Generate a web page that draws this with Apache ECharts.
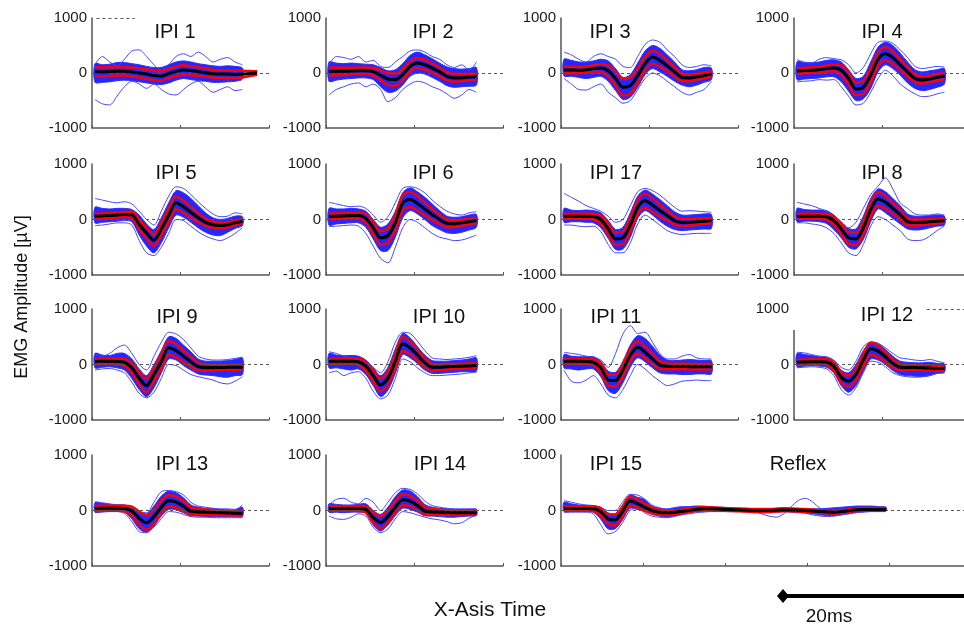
<!DOCTYPE html>
<html><head><meta charset="utf-8">
<script src="https://cdn.jsdelivr.net/npm/echarts@6/dist/echarts.min.js"></script>
<style>html,body{margin:0;padding:0;background:#fff}#c{width:964px;height:628px}</style>
</head><body><div id="c"></div>
<script>
// ===================== DATA (µV) =====================
// sample times (x units) : T0 + DT*k
const T0 = 2, DT = 5;
const panelNames = ['IPI 1','IPI 2','IPI 3','IPI 4','IPI 5','IPI 6','IPI 17','IPI 8','IPI 9','IPI 10','IPI 11','IPI 12','IPI 13','IPI 14','IPI 15'];
const yTickValues = [-1000, 0, 1000];

const mean_IPI1 = [25,20,25,30,30,20,0,-20,-45,-55,-10,30,55,45,25,5,-15,-20,-20,-25,-20,-10,0];
const sd_IPI1   = [85,80,80,75,75,80,80,85,85,85,85,85,85,80,80,75,70,70,70,65,60,45,30];
const hi_IPI1   = [170,150,160,190,190,170,150,120,100,100,150,200,220,200,170,150,130,120,130,120,90];
const lo_IPI1   = [-170,-170,-160,-140,-130,-140,-160,-180,-200,-210,-180,-130,-100,-120,-140,-150,-170,-170,-160,-150,-110];
const tr1_IPI1  = [150,300,200,130,250,400,420,300,150,50,150,300,350,300,380,300,200,250,280,200,150];
const tr2_IPI1  = [-480,-560,-580,-420,-250,-150,-200,-280,-200,-300,-380,-400,-300,-200,-150,-250,-350,-300,-250,-320,-300];

const mean_IPI2 = [25,30,30,35,40,40,25,-40,-110,-120,-30,120,180,150,90,20,-60,-90,-85,-75,-70];
const sd_IPI2   = [75,70,65,60,60,60,70,90,110,110,100,90,90,90,85,80,75,70,65,60,55];
const hi_IPI2   = [200,180,170,180,170,160,150,100,40,60,170,320,380,330,260,180,110,80,70,80,100];
const lo_IPI2   = [-150,-130,-110,-100,-90,-90,-120,-250,-350,-330,-220,-60,0,-20,-80,-150,-230,-260,-250,-240,-220];
const tr1_IPI2  = [150,300,280,250,300,200,230,120,100,200,300,400,420,380,300,250,150,100,150,50,200];
const tr2_IPI2  = [-400,-300,-250,-200,-180,-250,-200,-300,-520,-450,-300,-200,-150,-180,-250,-300,-380,-460,-400,-300,-350];

const mean_IPI3 = [55,55,50,60,80,90,40,-100,-260,-230,-50,170,290,230,130,20,-80,-90,-70,-45,-20];
const sd_IPI3   = [60,55,55,55,60,70,100,130,150,150,130,120,120,115,100,85,70,60,55,50,50];
const hi_IPI3   = [250,230,200,200,220,250,220,80,-80,-30,180,400,500,450,330,200,60,40,60,100,90];
const lo_IPI3   = [-50,-60,-80,-100,-80,-60,-150,-320,-480,-440,-260,-30,80,20,-60,-150,-220,-250,-220,-170,-120];
const tr1_IPI3  = [380,330,250,200,300,350,300,250,120,100,300,520,600,560,420,300,150,100,120,150,130];
const tr2_IPI3  = [-100,-200,-300,-310,-250,-200,-350,-450,-550,-500,-300,-100,0,-50,-150,-250,-350,-400,-350,-300,-150];

const mean_IPI4 = [35,45,50,60,80,90,50,-100,-290,-260,-40,250,350,280,150,20,-100,-125,-110,-80,-55];
const sd_IPI4   = [55,50,50,50,55,60,90,110,115,120,120,120,120,115,100,85,70,65,60,60,55];
const hi_IPI4   = [200,190,190,200,230,240,200,60,-100,-60,200,470,560,500,360,200,60,20,40,60,80];
const lo_IPI4   = [-120,-110,-100,-90,-70,-70,-160,-330,-500,-470,-280,20,150,80,-40,-180,-280,-320,-300,-260,-200];
const tr1_IPI4  = [240,200,180,250,280,260,240,150,0,100,350,560,580,540,420,280,120,80,100,120,110];
const tr2_IPI4  = [-160,-150,-140,-120,-130,-120,-250,-420,-580,-550,-350,-100,50,-50,-200,-300,-380,-430,-420,-380,-350];

const mean_IPI5 = [60,65,70,80,90,85,-90,-245,-375,-170,75,300,230,130,30,-50,-95,-110,-95,-60,-30];
const sd_IPI5   = [45,45,45,45,45,55,85,100,100,110,120,115,110,100,80,65,55,50,45,40,40];
const hi_IPI5   = [220,200,190,200,200,180,80,-80,-180,30,300,520,480,380,250,120,30,0,20,60,50];
const lo_IPI5   = [-60,-50,-40,-30,-20,-40,-280,-480,-600,-420,-150,80,40,-50,-150,-230,-280,-290,-230,-160,-110];
const tr1_IPI5  = [380,350,320,300,320,280,150,0,-100,150,420,590,560,450,320,200,100,50,60,120,100];
const tr2_IPI5  = [-110,-100,-80,-60,-60,-100,-380,-600,-650,-500,-250,0,-20,-120,-220,-300,-350,-380,-330,-250,-150];

const mean_IPI6 = [55,60,65,70,70,20,-150,-330,-290,-60,300,360,290,190,90,0,-70,-75,-60,-40,-20];
const sd_IPI6   = [50,50,50,50,55,80,110,120,130,135,135,135,130,115,100,85,70,60,55,50,45];
const hi_IPI6   = [200,190,190,200,190,150,0,-140,-80,150,480,570,500,400,280,160,60,40,50,80,90];
const lo_IPI6   = [-100,-80,-70,-60,-60,-140,-350,-560,-560,-320,30,160,100,0,-110,-180,-240,-250,-230,-190,-140];
const tr1_IPI6  = [310,280,250,230,240,200,80,-50,50,300,560,590,560,480,350,240,150,100,80,120,140];
const tr2_IPI6  = [-130,-120,-110,-100,-120,-250,-480,-700,-780,-500,-150,0,-50,-150,-250,-320,-350,-380,-370,-330,-280];

const mean_IPI17 = [55,58,60,60,55,0,-170,-350,-330,-100,220,340,260,160,70,-20,-55,-50,-40,-30,-20];
const sd_IPI17   = [45,45,45,45,50,75,100,110,115,120,125,125,120,105,90,75,65,60,55,50,45];
const hi_IPI17   = [200,170,160,170,160,120,-20,-180,-140,120,420,530,460,360,250,140,80,80,90,100,90];
const lo_IPI17   = [-50,-40,-40,-50,-60,-150,-340,-540,-530,-320,20,160,80,-30,-120,-180,-200,-190,-180,-170,-160];
const tr1_IPI17  = [470,400,330,250,200,150,60,-50,0,250,500,560,520,440,330,220,150,160,150,140,130];
const tr2_IPI17  = [-100,-100,-120,-130,-120,-220,-450,-600,-600,-420,-80,80,0,-100,-200,-250,-270,-260,-250,-250,-250];

const mean_IPI8 = [55,58,60,60,50,-20,-170,-330,-350,-150,180,370,310,200,90,-40,-55,-50,-40,-30,-20];
const sd_IPI8   = [45,45,45,45,50,70,95,105,110,115,120,120,115,100,85,65,55,50,45,40,40];
const hi_IPI8   = [200,180,170,170,160,80,-40,-160,-170,60,380,550,500,380,250,100,60,60,70,80,60];
const lo_IPI8   = [-40,-30,-30,-40,-70,-180,-330,-500,-530,-360,-40,190,120,20,-80,-170,-190,-180,-150,-120,-100];
const tr1_IPI8  = [310,280,250,200,150,50,-100,-150,-50,200,450,600,750,550,300,200,100,80,80,100,80];
const tr2_IPI8  = [-60,-60,-80,-100,-150,-250,-420,-600,-650,-450,-120,50,0,-100,-200,-350,-380,-370,-300,-200,-120];

const mean_IPI9 = [55,58,60,55,40,-60,-250,-380,-180,50,300,250,150,50,-40,-55,-55,-55,-50,-50,-50];
const sd_IPI9   = [45,45,45,50,60,85,110,120,125,125,125,120,105,90,70,60,55,50,45,45,45];
const hi_IPI9   = [200,170,160,200,200,100,-80,-200,0,250,500,470,350,230,100,60,60,60,70,90,120];
const lo_IPI9   = [-60,-50,-40,-60,-100,-250,-450,-580,-420,-150,100,80,-20,-100,-170,-190,-200,-220,-230,-200,-180];
const tr1_IPI9  = [180,150,200,300,350,200,0,-100,150,400,580,550,450,300,150,100,80,80,90,110,130];
const tr2_IPI9  = [-100,-80,-70,-100,-150,-320,-520,-600,-500,-250,0,-20,-100,-180,-220,-250,-280,-330,-350,-300,-220];

const mean_IPI10 = [55,58,60,60,50,-30,-200,-370,-250,60,370,300,170,30,-50,-50,-40,-35,-30,-25,-20];
const sd_IPI10   = [45,45,45,45,55,80,105,115,120,125,125,115,100,80,65,55,50,45,45,45,45];
const hi_IPI10   = [200,170,160,160,150,80,-60,-200,-50,280,560,480,320,170,70,60,60,70,80,100,120];
const lo_IPI10   = [-60,-60,-80,-100,-80,-180,-380,-580,-460,-160,180,120,20,-100,-160,-160,-150,-140,-130,-130,-120];
const tr1_IPI10  = [230,200,150,120,100,50,-50,-150,50,400,580,560,420,250,120,100,90,100,110,130,160];
const tr2_IPI10  = [-150,-120,-200,-150,-130,-250,-480,-620,-550,-250,100,50,-60,-150,-200,-200,-190,-180,-170,-150,-140];

const mean_IPI11 = [55,58,60,55,40,-60,-280,-290,-100,170,310,220,100,-10,-30,-35,-35,-40,-40,-40,-40];
const sd_IPI11   = [40,40,40,45,55,80,100,105,110,110,110,105,90,70,55,50,50,50,50,50,50];
const hi_IPI11   = [180,150,140,140,140,60,-120,-140,60,350,520,470,330,170,80,70,80,90,80,70,70];
const lo_IPI11   = [-60,-80,-100,-80,-80,-220,-470,-520,-330,-50,120,50,-60,-150,-170,-170,-180,-180,-170,-170,-170];
const tr1_IPI11  = [220,200,180,150,130,80,-50,200,550,700,560,580,400,200,100,100,150,180,120,100,100];
const tr2_IPI11  = [-100,-300,-330,-280,-200,-350,-550,-600,-450,-200,0,-80,-200,-300,-380,-350,-300,-290,-280,-290,-290];

const mean_IPI12 = [40,45,50,50,45,-30,-230,-300,-180,80,285,240,140,20,-50,-55,-55,-60,-65,-70,-70];
const sd_IPI12   = [45,45,45,45,50,75,95,100,105,110,110,105,90,75,60,50,45,45,45,40,40];
const hi_IPI12   = [200,180,160,140,130,60,-100,-150,0,250,400,380,270,150,60,40,30,30,40,20,10];
const lo_IPI12   = [-40,-30,-20,-30,-50,-150,-380,-500,-380,-120,100,80,0,-110,-180,-200,-210,-220,-200,-160,-140];
const tr1_IPI12  = [220,210,180,150,140,80,-50,-100,60,320,400,380,300,200,120,100,80,70,90,60,30];
const tr2_IPI12  = [-60,-50,-40,-50,-80,-200,-450,-550,-420,-150,60,40,-40,-150,-200,-220,-230,-220,-200,-160,-150];

const mean_IPI13 = [35,40,40,40,35,-10,-140,-220,-110,60,175,150,80,-15,-25,-30,-35,-40,-45,-50,-50];
const sd_IPI13   = [45,45,45,45,50,80,120,130,125,115,105,100,90,70,55,50,45,40,40,40,40];
const hi_IPI13   = [140,130,110,100,100,60,-20,-60,80,260,350,320,230,100,60,40,30,20,10,10,60];
const lo_IPI13   = [-30,-20,-10,-10,-30,-150,-330,-390,-280,-100,20,10,-40,-90,-100,-110,-110,-110,-110,-110,-110];
const tr1_IPI13  = [160,140,120,100,90,50,-20,-40,150,340,360,340,280,150,80,60,40,30,30,20,100];
const tr2_IPI13  = [-40,-30,-20,-20,-50,-200,-380,-400,-300,-150,-20,-30,-70,-110,-120,-120,-130,-130,-130,-130,-130];

const mean_IPI14 = [35,35,35,35,35,20,-130,-215,-110,60,195,170,90,-10,-25,-30,-35,-40,-40,-40,-40];
const sd_IPI14   = [40,40,40,40,45,55,90,110,110,105,100,95,85,70,55,45,40,40,40,35,35];
const hi_IPI14   = [120,110,100,100,110,120,0,-70,60,250,370,350,250,110,60,40,30,20,20,20,20];
const lo_IPI14   = [-30,-30,-40,-30,-30,-50,-260,-370,-260,-90,40,20,-30,-90,-100,-110,-120,-120,-110,-100,-90];
const tr1_IPI14  = [100,200,220,150,120,220,150,0,150,320,400,380,300,170,90,60,40,30,30,30,30];
const tr2_IPI14  = [-100,-150,-160,-120,-60,-100,-300,-400,-330,-150,-20,-40,-80,-120,-150,-170,-200,-240,-220,-140,-80];

// IPI 15 followed by the Reflex recording (one long panel)
const mean_IPI15 = [35,35,35,35,30,-20,-150,-170,-20,170,130,60,0,-30,-40,-35,-20,0,20,30,30,25,20,15,10,5,0,0,0,5,10,10,5,0,-10,-20,-25,-30,-20,0,15,20,20,20,20];
const sd_IPI15   = [35,35,35,35,40,60,90,100,95,80,75,65,55,45,40,35,35,30,30,30,25,25,25,25,25,25,25,25,25,25,25,25,25,25,25,25,25,25,25,25,25,25,25,25,25];
const hi_IPI15   = [150,120,100,90,80,60,-40,-60,80,280,240,200,80,40,20,40,60,70,80,80,70,60,50,40,30,30,30,30,30,40,50,40,30,30,30,30,40,50,60,70,80,80,80,70,60];
const lo_IPI15   = [-20,-20,-20,-20,-30,-150,-330,-330,-170,40,20,10,-60,-100,-120,-100,-70,-40,-20,-10,-10,-10,-10,-10,-10,-20,-30,-30,-30,-20,-10,-20,-30,-40,-60,-80,-90,-90,-70,-50,-30,-20,-10,-10,-10];
const tr1_IPI15  = [180,150,120,100,90,60,0,0,150,290,280,210,100,50,30,50,70,60,50,40,40,30,20,10,0,0,-20,-60,-100,-120,-60,60,180,220,150,40,0,10,20,30,40,40,30,30,30];
const tr2_IPI15  = [-30,-30,-30,-30,-60,-250,-420,-380,-220,0,40,-40,-100,-120,-130,-110,-80,-60,-40,-30,-20,-20,-20,-20,-20,-30,-40,-40,-40,-30,-20,-30,-40,-50,-80,-100,-110,-100,-80,-60,-40,-30,-20,-20,-20];

// odd dashed segments at the +1000 level (x units) and the shortened y axis of IPI 12
const dash1000_IPI1  = [3, 29];
const dash1000_IPI12 = [90, 120];
const axisTop_IPI12  = 620;

// ===================== LAYOUT / STYLE =====================
const panelData = [
  [mean_IPI1,sd_IPI1,hi_IPI1,lo_IPI1,tr1_IPI1,tr2_IPI1],
  [mean_IPI2,sd_IPI2,hi_IPI2,lo_IPI2,tr1_IPI2,tr2_IPI2],
  [mean_IPI3,sd_IPI3,hi_IPI3,lo_IPI3,tr1_IPI3,tr2_IPI3],
  [mean_IPI4,sd_IPI4,hi_IPI4,lo_IPI4,tr1_IPI4,tr2_IPI4],
  [mean_IPI5,sd_IPI5,hi_IPI5,lo_IPI5,tr1_IPI5,tr2_IPI5],
  [mean_IPI6,sd_IPI6,hi_IPI6,lo_IPI6,tr1_IPI6,tr2_IPI6],
  [mean_IPI17,sd_IPI17,hi_IPI17,lo_IPI17,tr1_IPI17,tr2_IPI17],
  [mean_IPI8,sd_IPI8,hi_IPI8,lo_IPI8,tr1_IPI8,tr2_IPI8],
  [mean_IPI9,sd_IPI9,hi_IPI9,lo_IPI9,tr1_IPI9,tr2_IPI9],
  [mean_IPI10,sd_IPI10,hi_IPI10,lo_IPI10,tr1_IPI10,tr2_IPI10],
  [mean_IPI11,sd_IPI11,hi_IPI11,lo_IPI11,tr1_IPI11,tr2_IPI11],
  [mean_IPI12,sd_IPI12,hi_IPI12,lo_IPI12,tr1_IPI12,tr2_IPI12],
  [mean_IPI13,sd_IPI13,hi_IPI13,lo_IPI13,tr1_IPI13,tr2_IPI13],
  [mean_IPI14,sd_IPI14,hi_IPI14,lo_IPI14,tr1_IPI14,tr2_IPI14],
  [mean_IPI15,sd_IPI15,hi_IPI15,lo_IPI15,tr1_IPI15,tr2_IPI15]
];
const colLeft = [92, 326, 561, 794];
const rowTop = [18, 164, 309, 455];
const rowH = [110, 111, 111, 111];
const cells = [];
for (let i = 0; i < 14; i++) {
  const r = Math.floor(i / 4), c = i % 4;
  cells.push({left: colLeft[c], top: rowTop[r], width: 177, height: rowH[r], xMax: 120, xInt: 60});
}
cells.push({left: 561, top: 455, width: 410, height: 111, xMax: 280, xInt: 56});

const titlePos = [
  ['IPI 1',175,32],['IPI 2',433,32],['IPI 3',610,32],['IPI 4',882,32],
  ['IPI 5',176,173],['IPI 6',433,173],['IPI 17',616,173],['IPI 8',882,173],
  ['IPI 9',177,317],['IPI 10',439,317],['IPI 11',616,317],['IPI 12',887,315],
  ['IPI 13',182,464],['IPI 14',440,464],['IPI 15',616,464],['Reflex',798,464]
];

const FONT = '"Liberation Sans", Arial, sans-serif';
const AX = '#555';
const BLUE_FILL = 'rgba(0,0,255,0.85)';
const BLUE_LINE = '#2a2aff';
const TRACE = '#4646ff';
const SMOOTH = 0.3;

function pts(arr) { return arr.map((v, k) => [T0 + DT * k, v]); }

const grids = [], xAxes = [], yAxes = [], series = [];
panelData.forEach((d, i) => {
  const [mean, sd, hi, lo, tr1, tr2] = d;
  const g = cells[i];
  grids.push({left: g.left, top: g.top, width: g.width, height: g.height, containLabel: false, outerBoundsMode: 'none'});
  xAxes.push({gridIndex: i, type: 'value', min: 0, max: g.xMax, interval: g.xInt,
    axisLine: {show: true, onZero: false, lineStyle: {color: AX, width: 1.5}},
    axisTick: {show: true, inside: true, length: 3, lineStyle: {color: AX, width: 1}},
    axisLabel: {show: false}, splitLine: {show: false}});
  yAxes.push({gridIndex: i, type: 'value', min: yTickValues[0], max: yTickValues[2], interval: 1000,
    axisLine: {show: i !== 11, onZero: false, lineStyle: {color: AX, width: 1.5}},
    axisTick: {show: false}, splitLine: {show: false},
    axisLabel: {show: true, fontSize: 15, fontFamily: FONT, color: '#1a1a1a', margin: 5, formatter: v => String(v)}});

  const base = {xAxisIndex: i, yAxisIndex: i, animation: false, symbol: 'none', silent: true, type: 'line'};
  const ml = [{yAxis: 0}];
  if (i === 0) ml.push([{coord: [dash1000_IPI1[0], 1000]}, {coord: [dash1000_IPI1[1], 1000]}]);
  if (i === 11) {
    ml.push([{coord: [dash1000_IPI12[0], 1000]}, {coord: [dash1000_IPI12[1], 1000]}]);
    ml.push([{coord: [0, -1000], lineStyle: {type: 'solid', color: AX, width: 1.5}}, {coord: [0, axisTop_IPI12]}]);
  }
  series.push(Object.assign({}, base, {data: pts(mean), z: 1, lineStyle: {opacity: 0},
    markLine: {silent: true, animation: false, symbol: ['none', 'none'], label: {show: false},
      lineStyle: {type: [3, 3], color: AX, width: 1}, data: ml}}));
  // dense blue band between lo and hi, drawn as one polygon through the axes' scales
  const hiPts = pts(hi), loPts = pts(lo);
  series.push({type: 'custom', xAxisIndex: i, yAxisIndex: i, animation: false, silent: true, z: 2,
    data: hiPts.map((p, k) => [p[0], p[1], loPts[k][1]]),
    encode: {x: 0, y: [1, 2]},
    renderItem: function (params, api) {
      if (params.dataIndex !== 0) return null;
      const top = hiPts.map(p => api.coord(p));
      const bot = loPts.map(p => api.coord(p)).reverse();
      return {type: 'group', children: [
        {type: 'polygon', shape: {points: top.concat(bot), smooth: SMOOTH}, style: {fill: BLUE_FILL, stroke: BLUE_LINE, lineWidth: 1}}
      ]};
    }});
  // individual outlying traces
  [tr1, tr2].forEach(tr => series.push(Object.assign({}, base, {data: pts(tr), z: 3, smooth: SMOOTH,
    lineStyle: {color: TRACE, width: 1}})));
  // mean ± SD (red) and mean (black)
  series.push(Object.assign({}, base, {data: pts(mean.map((m, k) => m + sd[k])), z: 4, smooth: SMOOTH, lineStyle: {color: '#ff0000', width: 2.5}}));
  series.push(Object.assign({}, base, {data: pts(mean.map((m, k) => m - sd[k])), z: 4, smooth: SMOOTH, lineStyle: {color: '#ff0000', width: 2.5}}));
  series.push(Object.assign({}, base, {data: pts(mean), z: 5, smooth: SMOOTH, lineStyle: {color: '#000', width: 3}}));
});

const graphics = titlePos.map(t => ({type: 'text', x: t[1], y: t[2], silent: true,
  style: {text: t[0], font: '20px ' + FONT, fill: '#111', textAlign: 'center', textVerticalAlign: 'middle', align: 'center', verticalAlign: 'middle'}}));
graphics.push({type: 'text', x: 22, y: 297, rotation: Math.PI / 2, silent: true,
  style: {text: 'EMG Amplitude [µV]', font: '18px ' + FONT, fill: '#111', textAlign: 'center', textVerticalAlign: 'middle', align: 'center', verticalAlign: 'middle'}});
graphics.push({type: 'text', x: 490, y: 610, silent: true,
  style: {text: 'X-Asis Time', font: '21px ' + FONT, fill: '#111', textAlign: 'center', textVerticalAlign: 'middle', align: 'center', verticalAlign: 'middle'}});
graphics.push({type: 'text', x: 829, y: 617, silent: true,
  style: {text: '20ms', font: '19px ' + FONT, fill: '#111', textAlign: 'center', textVerticalAlign: 'middle', align: 'center', verticalAlign: 'middle'}});
// 20 ms scale bar
graphics.push({type: 'line', silent: true, shape: {x1: 783, y1: 596, x2: 964, y2: 596}, style: {stroke: '#000', lineWidth: 4}});
graphics.push({type: 'polygon', silent: true, shape: {points: [[783, 589], [789, 596], [783, 603], [777, 596]]}, style: {fill: '#000'}});

const chart = echarts.init(document.getElementById('c'), null, {renderer: 'canvas'});
chart.setOption({
  animation: false,
  backgroundColor: '#fff',
  grid: grids, xAxis: xAxes, yAxis: yAxes, series: series, graphic: graphics
});
</script></body></html>
